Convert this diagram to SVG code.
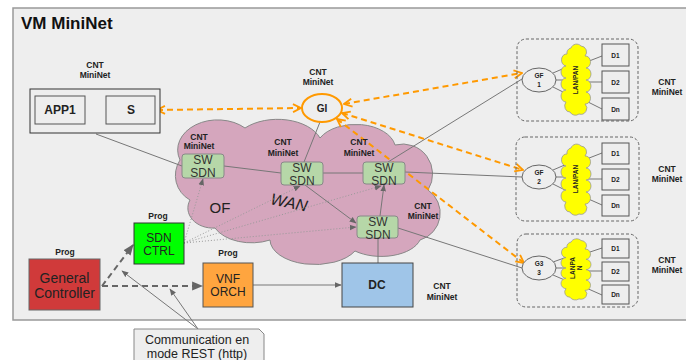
<svg xmlns="http://www.w3.org/2000/svg" width="686" height="360" viewBox="0 0 686 360">
  <style>
    text { font-family: "Liberation Sans", Arial, sans-serif; fill: #222; }
    .lbl { font-size: 8.5px; font-weight: bold; text-anchor: middle; }
    .box { stroke: #555; stroke-width: 1; }
    .sw rect { fill: #b6d7a8; stroke: #888; stroke-width: 1; }
    .sw text { font-size: 12px; text-anchor: middle; fill: #333; }
    .sw text.lbl { font-size: 8.5px; font-weight: bold; fill: #222; }
    .dev rect { fill: #eeeeee; stroke: #555; stroke-width: 1; }
    .dev text { font-size: 6.5px; font-weight: bold; text-anchor: middle; }
    .gf ellipse { fill: #eeeeee; stroke: #666; stroke-width: 1; }
    .gf text { font-size: 6.5px; font-weight: bold; text-anchor: middle; }
    .lan { fill: #ffff00; stroke: #999; stroke-width: 0.8; }
    .thin { stroke: #777; stroke-width: 1; fill: none; }
    .dot { stroke: #999; stroke-width: 1; stroke-dasharray: 1 2; fill: none; }
    .orange { stroke: #ff9900; stroke-width: 2; stroke-dasharray: 6 4; fill: none; }
    .bold-dash { stroke: #666; stroke-width: 2; stroke-dasharray: 6 4; fill: none; }
    .grp { fill: none; stroke: #666; stroke-width: 1; stroke-dasharray: 3 2; }
  </style>
  <defs>
    <marker id="orangeArrow" viewBox="0 0 10 10" refX="9" refY="5" markerWidth="10" markerHeight="10" markerUnits="userSpaceOnUse" orient="auto-start-reverse">
      <path d="M1,1 L9,5 L1,9" fill="none" stroke="#ff9900" stroke-width="1.8"/>
    </marker>
    <marker id="grayArrow" viewBox="0 0 10 10" refX="9" refY="5" markerWidth="7" markerHeight="7" markerUnits="userSpaceOnUse" orient="auto">
      <path d="M0,1 L10,5 L0,9 Z" fill="#666"/>
    </marker>
    <marker id="bigArrow" viewBox="0 0 10 10" refX="9" refY="5" markerWidth="11" markerHeight="11" markerUnits="userSpaceOnUse" orient="auto">
      <path d="M0,1 L10,5 L0,9 Z" fill="#666"/>
    </marker>
    <path id="lanCloud" d="M6 6 A6 6 0 0 1 16 4 A6 6 0 0 1 20 14 A5 6 0 0 1 21 26 A5 6 0 0 1 21 38 A5 6 0 0 1 21 50 A5 6 0 0 1 20 62 A6 6 0 0 1 14 72 A6 6 0 0 1 5 70 A5 6 0 0 1 1 60 A5 6 0 0 1 1 48 A5 6 0 0 1 1 36 A5 6 0 0 1 1 24 A5 6 0 0 1 2 12 A5 5 0 0 1 6 6 Z"/>
  </defs>

  <!-- VM container -->
  <rect x="13" y="8" width="690" height="312" fill="#eeeeee" stroke="#999" stroke-width="1.5"/>
  <text x="21" y="29" style="font-size:17px;font-weight:bold;fill:#111">VM MiniNet</text>

  <!-- WAN cloud -->
  <g id="wan">
    <path d="M190 200 A28 28 0 0 1 180 160 A40 30 0 0 1 245 128 A45 28 0 0 1 320 138 A40 25 0 0 1 395 145 A30 30 0 0 1 428 190 A28 28 0 0 1 420 240 A40 22 0 0 1 355 251 A45 25 0 0 1 270 240 A40 25 0 0 1 215 228 A25 20 0 0 1 190 200 Z" fill="#d5a6bd" stroke="#888" stroke-width="1"/>
    <text x="220" y="213" style="font-size:15px;text-anchor:middle;fill:#222">OF</text>
    <text x="289" y="208" transform="rotate(12 289 203)" style="font-size:16px;font-style:italic;text-anchor:middle;fill:#222">WAN</text>
  </g>

  <!-- connectors -->
  <g id="connectors">
    <line class="thin" x1="96" y1="134" x2="182" y2="166"/>
    <line class="thin" x1="224" y1="166" x2="281" y2="173"/>
    <line class="thin" x1="323" y1="173" x2="363" y2="173"/>
    <line class="thin" x1="320" y1="122" x2="304" y2="162"/>
    <line class="thin" x1="388" y1="162" x2="522" y2="79"/>
    <line class="thin" x1="405" y1="172" x2="522" y2="177"/>
    <line class="thin" x1="398" y1="228" x2="522" y2="268"/>
    <line class="thin" x1="378" y1="238" x2="378" y2="263"/>
    <line class="thin" x1="305" y1="185" x2="356" y2="223" marker-end="url(#grayArrow)"/>
    <line class="thin" x1="380" y1="216" x2="384" y2="185" marker-end="url(#grayArrow)"/>
    <line class="thin" x1="253" y1="285" x2="341" y2="285" marker-end="url(#grayArrow)"/>

    <line class="dot" x1="184" y1="243" x2="203" y2="179" marker-end="url(#grayArrow)"/>
    <line class="dot" x1="184" y1="243" x2="300" y2="186" marker-end="url(#grayArrow)"/>
    <line class="dot" x1="184" y1="243" x2="381" y2="186" marker-end="url(#grayArrow)"/>
    <line class="dot" x1="184" y1="243" x2="356" y2="227" marker-end="url(#grayArrow)"/>

    <line class="orange" x1="157" y1="110" x2="301" y2="108" marker-start="url(#orangeArrow)" marker-end="url(#orangeArrow)"/>
    <line class="orange" x1="344" y1="104" x2="522" y2="73" marker-start="url(#orangeArrow)" marker-end="url(#orangeArrow)"/>
    <line class="orange" x1="342" y1="113" x2="523" y2="170" marker-start="url(#orangeArrow)" marker-end="url(#orangeArrow)"/>
    <line class="orange" x1="337" y1="119" x2="524" y2="263" marker-start="url(#orangeArrow)" marker-end="url(#orangeArrow)"/>
    <line x1="87" y1="110" x2="104" y2="110" stroke="#ff9900" stroke-width="2" marker-start="url(#orangeArrow)" marker-end="url(#orangeArrow)"/>

    <line class="bold-dash" x1="102" y1="286" x2="133" y2="245" marker-end="url(#bigArrow)"/>
    <line class="bold-dash" x1="102" y1="286" x2="202" y2="286" marker-end="url(#bigArrow)"/>

    <line class="thin" x1="198" y1="329" x2="122" y2="271" marker-end="url(#grayArrow)"/>
    <line class="thin" x1="198" y1="329" x2="170" y2="289" marker-end="url(#grayArrow)"/>
  </g>

  <!-- application container -->
  <g id="app">
    <rect x="30" y="89" width="130" height="44" fill="#eeeeee" stroke="#333" stroke-width="1"/>
    <text class="lbl" x="95" y="68">CNT</text>
    <text class="lbl" x="95" y="78">MiniNet</text>
  </g>
  <g id="app1">
    <rect class="box" x="35" y="96" width="50" height="28" fill="#eeeeee"/>
    <text x="60" y="114" style="font-size:12px;font-weight:bold;text-anchor:middle">APP1</text>
  </g>
  <g id="s">
    <rect class="box" x="106" y="96" width="49" height="28" fill="#eeeeee"/>
    <text x="131" y="114" style="font-size:12px;font-weight:bold;text-anchor:middle">S</text>
  </g>

  <!-- gateway GI -->
  <g id="gi">
    <ellipse cx="322" cy="108" rx="20" ry="14" fill="#eeeeee" stroke="#ff9900" stroke-width="2"/>
    <text x="322" y="112" style="font-size:10px;font-weight:bold;text-anchor:middle">GI</text>
    <text class="lbl" x="318" y="75">CNT</text>
    <text class="lbl" x="318" y="85">MiniNet</text>
  </g>

  <!-- SDN switches -->
  <g id="sw1" class="sw">
    <rect x="182" y="154" width="42" height="24" rx="3"/>
    <text x="203" y="164">SW</text>
    <text x="203" y="177">SDN</text>
    <text class="lbl" x="199" y="140">CNT</text>
    <text class="lbl" x="199" y="149">MiniNet</text>
  </g>
  <g id="sw2" class="sw">
    <rect x="281" y="162" width="42" height="23" rx="3"/>
    <text x="302" y="172">SW</text>
    <text x="302" y="185">SDN</text>
    <text class="lbl" x="283" y="145">CNT</text>
    <text class="lbl" x="283" y="156">MiniNet</text>
  </g>
  <g id="sw3" class="sw">
    <rect x="363" y="162" width="42" height="22" rx="3"/>
    <text x="384" y="172">SW</text>
    <text x="384" y="185">SDN</text>
    <text class="lbl" x="359" y="145">CNT</text>
    <text class="lbl" x="359" y="156">MiniNet</text>
  </g>
  <g id="sw4" class="sw">
    <rect x="357" y="216" width="41" height="22" rx="3"/>
    <text x="378" y="226">SW</text>
    <text x="378" y="239">SDN</text>
    <text class="lbl" x="423" y="209">CNT</text>
    <text class="lbl" x="423" y="219">MiniNet</text>
  </g>

  <!-- controllers -->
  <g id="sdn-ctrl">
    <rect x="134" y="223" width="50" height="41" fill="#00ff00" stroke="#333" stroke-width="1"/>
    <text x="159" y="242" style="font-size:12px;text-anchor:middle">SDN</text>
    <text x="159" y="255" style="font-size:12px;text-anchor:middle">CTRL</text>
    <text class="lbl" x="158" y="219">Prog</text>
  </g>
  <g id="general-controller">
    <rect x="29" y="259" width="71" height="51" fill="#d03a3a" stroke="#666" stroke-width="1"/>
    <text x="64.5" y="283" style="font-size:14px;text-anchor:middle">General</text>
    <text x="64.5" y="298" style="font-size:14px;text-anchor:middle">Controller</text>
    <text class="lbl" x="65" y="255">Prog</text>
  </g>
  <g id="vnf-orch">
    <rect x="203" y="263" width="50" height="44" fill="#ffa53f" stroke="#555" stroke-width="1"/>
    <text x="228" y="283" style="font-size:12px;text-anchor:middle">VNF</text>
    <text x="228" y="296" style="font-size:12px;text-anchor:middle">ORCH</text>
    <text class="lbl" x="228" y="256">Prog</text>
  </g>
  <g id="dc">
    <rect x="342" y="263" width="71" height="44" fill="#9fc5e8" stroke="#444" stroke-width="1"/>
    <text x="377" y="289" style="font-size:12px;font-weight:bold;text-anchor:middle">DC</text>
    <text class="lbl" x="442" y="289">CNT</text>
    <text class="lbl" x="442" y="300">MiniNet</text>
  </g>

  <!-- edge group 1 -->
  <g id="edge1">
    <rect class="grp" x="517" y="39" width="121" height="82" rx="9"/>
    <line class="thin" x1="553" y1="73" x2="567" y2="67"/>
    <line class="thin" x1="556" y1="80" x2="567" y2="80"/>
    <line class="thin" x1="553" y1="87" x2="567" y2="94"/>
    <line class="thin" x1="584" y1="63" x2="602" y2="56"/>
    <line class="thin" x1="587" y1="82" x2="602" y2="82"/>
    <line class="thin" x1="584" y1="100" x2="602" y2="109"/>
    <g class="gf"><ellipse cx="539" cy="80" rx="17" ry="12"/>
      <text x="539" y="78">GF</text><text x="539" y="87">1</text></g>
    <use href="#lanCloud" class="lan" transform="translate(565 42)"/>
    <text x="576" y="80" transform="rotate(-90 576 80)" style="font-size:6.5px;font-weight:bold;text-anchor:middle;dominant-baseline:middle">LAN/PAN</text>
    <g class="dev">
      <rect x="602" y="44" width="27" height="22"/><text x="615.5" y="57.5">D1</text>
      <rect x="602" y="71" width="27" height="22"/><text x="615.5" y="84.5">D2</text>
      <rect x="602" y="98" width="27" height="22"/><text x="615.5" y="111.5">Dn</text>
    </g>
    <text class="lbl" x="667" y="85">CNT</text>
    <text class="lbl" x="667" y="95">MiniNet</text>
  </g>

  <!-- edge group 2 -->
  <g id="edge2">
    <rect class="grp" x="516" y="137" width="123" height="84" rx="9"/>
    <line class="thin" x1="553" y1="170" x2="567" y2="164"/>
    <line class="thin" x1="556" y1="177" x2="567" y2="177"/>
    <line class="thin" x1="553" y1="184" x2="567" y2="191"/>
    <line class="thin" x1="584" y1="160" x2="602" y2="153"/>
    <line class="thin" x1="587" y1="179" x2="602" y2="179"/>
    <line class="thin" x1="584" y1="197" x2="602" y2="205"/>
    <g class="gf"><ellipse cx="539" cy="177" rx="17" ry="12"/>
      <text x="539" y="175">GF</text><text x="539" y="184">2</text></g>
    <use href="#lanCloud" class="lan" transform="translate(565 142)"/>
    <text x="576" y="179" transform="rotate(-90 576 179)" style="font-size:6.5px;font-weight:bold;text-anchor:middle;dominant-baseline:middle">LAN/PAN</text>
    <g class="dev">
      <rect x="602" y="143" width="27" height="21"/><text x="615.5" y="156">D1</text>
      <rect x="602" y="169" width="27" height="21"/><text x="615.5" y="182">D2</text>
      <rect x="602" y="195" width="27" height="21"/><text x="615.5" y="208">Dn</text>
    </g>
    <text class="lbl" x="667" y="172">CNT</text>
    <text class="lbl" x="667" y="182">MiniNet</text>
  </g>

  <!-- edge group 3 -->
  <g id="edge3">
    <rect class="grp" x="517" y="234" width="121" height="73" rx="9"/>
    <line class="thin" x1="553" y1="262" x2="567" y2="257"/>
    <line class="thin" x1="556" y1="268" x2="567" y2="268"/>
    <line class="thin" x1="553" y1="275" x2="567" y2="281"/>
    <line class="thin" x1="584" y1="254" x2="602" y2="248"/>
    <line class="thin" x1="587" y1="271" x2="602" y2="271"/>
    <line class="thin" x1="584" y1="287" x2="602" y2="295"/>
    <g class="gf"><ellipse cx="539" cy="268" rx="17" ry="12"/>
      <text x="539" y="266">G3</text><text x="539" y="275">3</text></g>
    <use href="#lanCloud" class="lan" transform="translate(565 237) scale(1 0.86)"/>
    <text x="573" y="268" transform="rotate(-90 573 268)" style="font-size:6.5px;font-weight:bold;text-anchor:middle;dominant-baseline:middle">LANPA</text>
    <text x="580" y="268" transform="rotate(-90 580 268)" style="font-size:6.5px;font-weight:bold;text-anchor:middle;dominant-baseline:middle">N</text>
    <g class="dev">
      <rect x="602" y="239" width="27" height="19"/><text x="615.5" y="251">D1</text>
      <rect x="602" y="262" width="27" height="19"/><text x="615.5" y="274">D2</text>
      <rect x="602" y="285" width="27" height="19"/><text x="615.5" y="297">Dn</text>
    </g>
    <text class="lbl" x="667" y="263">CNT</text>
    <text class="lbl" x="667" y="273">MiniNet</text>
  </g>

  <!-- REST note -->
  <g id="rest-note">
    <path d="M134 329 L259 329 L264 334 L264 364 L134 364 Z" fill="#eeeeee" stroke="#888" stroke-width="1"/>
    <text x="197" y="343.5" style="font-size:12.5px;text-anchor:middle">Communication en</text>
    <text x="197" y="357.5" style="font-size:12.5px;text-anchor:middle">mode REST (http)</text>
  </g>
</svg>
